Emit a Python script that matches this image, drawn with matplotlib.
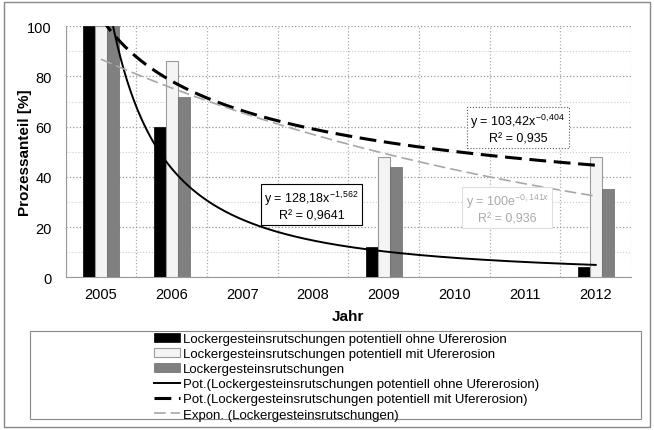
import matplotlib
matplotlib.use("Agg")
import matplotlib.pyplot as plt
import numpy as np
from matplotlib.patches import Rectangle

plt.rcParams['font.family'] = ['Liberation Sans', 'DejaVu Sans']
plt.rcParams['mathtext.fontset'] = 'custom'
plt.rcParams['mathtext.rm'] = 'Liberation Sans'
plt.rcParams['mathtext.it'] = 'Liberation Sans:italic'

years = ['2005', '2006', '2007', '2008', '2009', '2010', '2011', '2012']
bar_pos = [1, 2, 5, 8]
ohne = [100, 60, 12, 4]
mit = [100, 86, 48, 48]
gesamt = [100, 72, 44, 35]

# trend line parameters (from the chart labels)
pot_ohne = (128.18, -1.562)
pot_mit = (103.42, -0.404)
exp_ges = (100, -0.141)

fig = plt.figure(figsize=(6.54, 4.31), dpi=100)
ax = fig.add_axes([0.1002, 0.354, 0.8647, 0.583])

x = np.array(bar_pos)
w = 0.17
b1 = ax.bar(x - 0.17, ohne, w, color='black', edgecolor='black', linewidth=0.5,
            label='Lockergesteinsrutschungen potentiell ohne Ufererosion', zorder=3)
b2 = ax.bar(x, mit, w, color='#f4f4f4', edgecolor='#9a9a9a', linewidth=0.8,
            label='Lockergesteinsrutschungen potentiell mit Ufererosion', zorder=3)
b3 = ax.bar(x + 0.17, gesamt, w, color='#808080', edgecolor='#6a6a6a', linewidth=0.5,
            label='Lockergesteinsrutschungen', zorder=3)

xs = np.linspace(1, 8, 300)
l1, = ax.plot(xs, pot_ohne[0] * xs ** pot_ohne[1], color='black', lw=1.4, zorder=4,
              label='Pot.(Lockergesteinsrutschungen potentiell ohne Ufererosion)')
l2, = ax.plot(xs, pot_mit[0] * xs ** pot_mit[1], color='black', lw=2.2, ls=(0, (5.5, 2.5)), zorder=4,
              label='Pot.(Lockergesteinsrutschungen potentiell mit Ufererosion)')
l3, = ax.plot(xs, exp_ges[0] * np.exp(exp_ges[1] * xs), color='#a8a8a8', lw=1.2, ls=(0, (7, 3)), zorder=4,
              label='Expon. (Lockergesteinsrutschungen)')

ax.set_xlim(0.5, 8.5)
ax.set_ylim(0, 100)
ax.set_xticks(range(1, 9))
ax.set_xticklabels(years)
ax.set_yticks(range(0, 101, 20))
ax.set_yticks(range(10, 100, 20), minor=True)
ax.tick_params(axis='both', labelsize=10.5, length=0)
ax.tick_params(axis='y', pad=10)
ax.tick_params(axis='x', pad=7)
ax.tick_params(axis='y', which='minor', length=0)

ax.grid(axis='y', which='major', ls=':', color='#999999', lw=0.9, zorder=0)
ax.grid(axis='y', which='minor', ls=':', color='#cccccc', lw=0.8, zorder=0)
for b in np.arange(0.5, 9, 1):
    ax.axvline(b, ls=':', color='#aaaaaa', lw=0.9, zorder=0)
for s in ['top', 'right']:
    ax.spines[s].set_visible(False)
ax.spines['left'].set_color('#999999')
ax.spines['bottom'].set_color('#999999')

ax.set_ylabel('Prozessanteil [%]', fontsize=11, fontweight='bold')
ax.yaxis.set_label_coords(-0.059, 0.5)
ax.set_xlabel('Jahr', fontsize=11, fontweight='bold', labelpad=6)

ax.text(3.98, 28.7, 'y = 128,18x$^{-1,562}$\nR² = 0,9641', fontsize=9, ha='center', va='center',
        linespacing=1.3, zorder=6,
        bbox=dict(boxstyle='square,pad=0.25', fc='white', ec='black', lw=0.8))
ax.text(6.9, 59.4, 'y = 103,42x$^{-0,404}$\nR² = 0,935', fontsize=9, ha='center', va='center',
        linespacing=1.3, zorder=6,
        bbox=dict(boxstyle='square,pad=0.25', fc='white', ec='#555555', lw=0.8, ls=':'))
ax.text(6.75, 27.5, 'y = 100e$^{-0,141x}$\nR² = 0,936', fontsize=9, ha='center', va='center',
        color='#aaaaaa', linespacing=1.3, zorder=6,
        bbox=dict(boxstyle='square,pad=0.25', fc='white', ec='#dddddd', lw=0.8))

handles = [b1, b2, b3, l1, l2, l3]
fig.legend(handles, [h.get_label() for h in handles], loc='upper left', bbox_to_anchor=(0.235, 0.226),
           frameon=False, fontsize=9.5, handlelength=2.0, handletextpad=0.2,
           labelspacing=0.22, borderpad=0, borderaxespad=0)

fig.patches.append(Rectangle((0.046, 0.025), 0.934, 0.205, transform=fig.transFigure,
                             fill=False, ec='#888888', lw=0.8))
fig.patches.append(Rectangle((0.006, 0.008), 0.988, 0.984, transform=fig.transFigure,
                             fill=False, ec='#888888', lw=1.0))

fig.savefig('out.png', dpi=100)
